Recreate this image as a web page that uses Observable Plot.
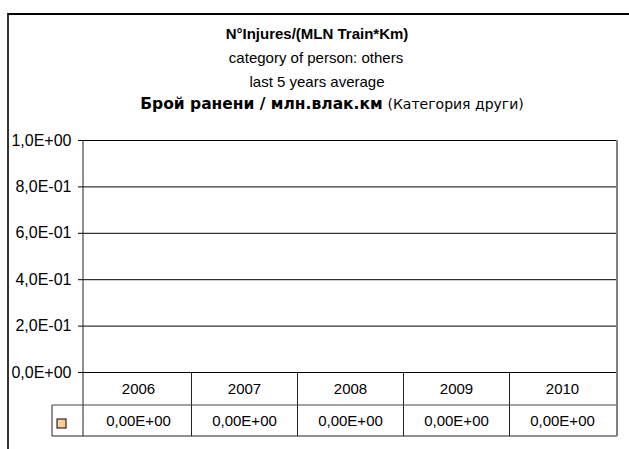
<!DOCTYPE html>
<html><head><meta charset="utf-8">
<script src="https://cdn.jsdelivr.net/npm/d3@7"></script>
<script src="https://cdn.jsdelivr.net/npm/@observablehq/plot@0.6"></script>
<style>
body{margin:0;background:#fff;}
#wrap{position:relative;width:629px;height:449px;overflow:hidden;font-family:"Liberation Sans",Arial,sans-serif;color:#000;background:#fff}
#frame{position:absolute;left:7px;top:13px;width:640px;height:460px;border-left:2px solid #333;border-top:2px solid #000;}
.t{position:absolute;white-space:nowrap;font-size:15px;line-height:17px;transform:translateX(-50%);}
#chart{position:absolute;left:0;top:125px;}
</style></head>
<body>
<div id="wrap">
<div id="frame"></div>
<div class="t" style="left:317px;top:24.5px;font-weight:bold">N°Injures/(MLN Train*Km)</div>
<div class="t" style="left:316px;top:48.5px;">category of person: others</div>
<div class="t" style="left:317px;top:72.5px;">last 5 years average</div>
<div class="t" style="left:332px;top:96px;font-family:'DejaVu Sans',sans-serif;"><b style="font-size:15.5px">Брой ранени / млн.влак.км</b> <span style="font-size:14px">(Категория други)</span></div>
<div id="chart"></div>
</div>
<script>
const years = ["2006", "2007", "2008", "2009", "2010"];
const values = [0, 0, 0, 0, 0];
const yTicks = [0, 0.2, 0.4, 0.6, 0.8, 1.0];
const seriesColor = "#FFCC99";

const data = years.map((y, i) => ({year: y, value: values[i]}));

function expFmt(v, digits) {
  const s = v.toExponential(digits).replace(".", ",");
  return s.replace(/e([+-])(\d+)$/, (m, sign, e) => "E" + sign + e.padStart(2, "0"));
}

const W = 629, H = 324, MT = 15, MB = 77, ML = 83, MR = 12;

const chart = Plot.plot({
  width: W, height: H,
  marginTop: MT, marginBottom: MB, marginLeft: ML, marginRight: MR,
  style: {fontFamily: "Liberation Sans, Arial, sans-serif", fontSize: "16px", color: "#000", background: "transparent", overflow: "visible"},
  x: {type: "band", domain: years, padding: 0, axis: null},
  y: {domain: [0, 1], ticks: yTicks, tickFormat: d => expFmt(d, 1), tickSize: 5, tickPadding: 7, label: null},
  marks: [
    Plot.ruleY(yTicks, {stroke: "#000", strokeWidth: 1}),
    Plot.barY(data, {x: "year", y: "value", fill: seriesColor}),
    Plot.text(years, {x: d => d, frameAnchor: "bottom", lineAnchor: "middle", dy: 17, fontSize: 15, fill: "#000"}),
    Plot.text(data, {x: "year", text: d => expFmt(d.value, 2), frameAnchor: "bottom", lineAnchor: "middle", dy: 49, fontSize: 15, fill: "#000"})
  ]
});
document.getElementById("chart").appendChild(chart);

// data-table grid and legend key, positioned from the x scale
const sx = chart.scale("x");
const svg = d3.select(chart);
const frameTop = MT, frameBot = H - MB;
const row1 = frameBot + 33, row2 = frameBot + 64;
const xa = sx.range[0], xb = sx.range[1];
const keyLeft = xa - 31;
const g = svg.append("g").attr("stroke", "#222").attr("stroke-width", 1).attr("fill", "none");
g.append("line").attr("x1", xa).attr("x2", xa).attr("y1", frameTop).attr("y2", row2);
years.slice(1).forEach(y => {
  const xx = Math.round(sx.apply(y)) + 0.5;
  g.append("line").attr("x1", xx).attr("x2", xx).attr("y1", frameBot).attr("y2", row2);
});
g.append("line").attr("x1", keyLeft).attr("x2", xb).attr("y1", row1).attr("y2", row1).attr("stroke", "#444");
g.append("line").attr("x1", keyLeft).attr("x2", xb).attr("y1", row2).attr("y2", row2);
g.append("line").attr("x1", keyLeft).attr("x2", keyLeft).attr("y1", row1).attr("y2", row2);
g.append("line").attr("x1", xb).attr("x2", xb).attr("y1", frameTop).attr("y2", row2).attr("stroke", "#808080").attr("stroke-width", 2);
svg.append("rect").attr("x", keyLeft + 5).attr("y", frameBot + 47).attr("width", 9).attr("height", 9)
  .attr("fill", seriesColor).attr("stroke", "#000").attr("stroke-width", 1);
</script>
</body></html>
